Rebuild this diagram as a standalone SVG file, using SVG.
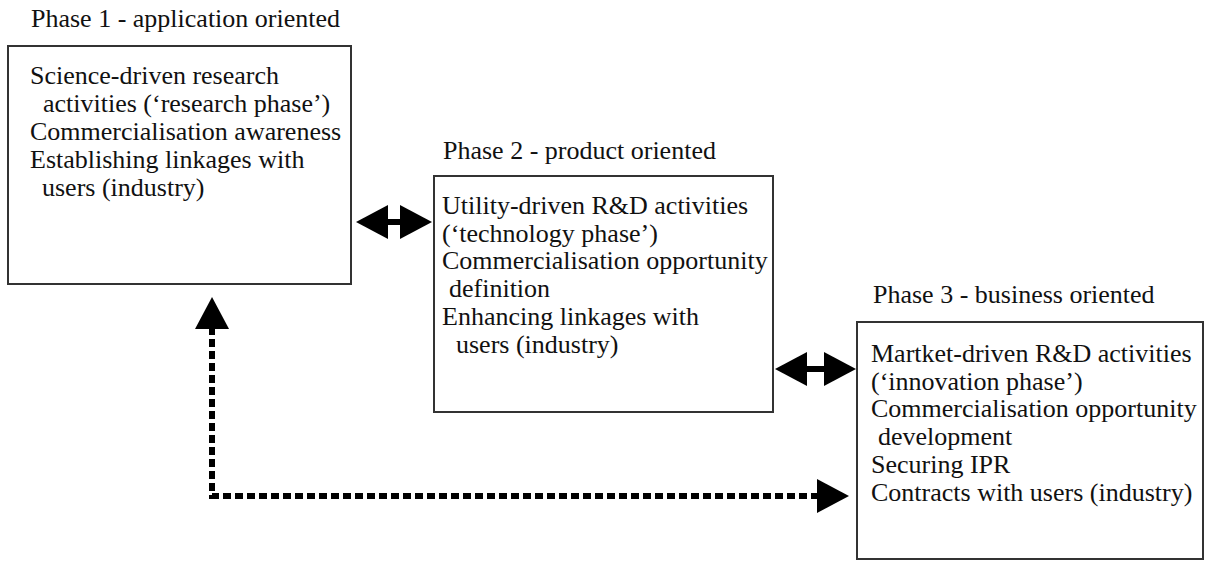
<svg xmlns="http://www.w3.org/2000/svg" width="1206" height="561" viewBox="0 0 1206 561">
<style>
  .box { fill: #ffffff; stroke: #333333; stroke-width: 2; }
  .t { font-family: "Liberation Serif", "Times New Roman", serif; font-size: 26px; fill: #111111; }
  .solid { stroke: #000000; stroke-width: 6; fill: none; marker-start: url(#ah); marker-end: url(#ah); }
  .dash { stroke: #000000; stroke-width: 6; fill: none; stroke-dasharray: 8 4; marker-start: url(#ah); marker-end: url(#ah); }
</style>
<defs>
  <marker id="ah" markerUnits="userSpaceOnUse" viewBox="0 0 32 34" markerWidth="32" markerHeight="34" refX="2" refY="17" orient="auto-start-reverse">
    <path d="M0,0 L32,17 L0,34 Z" fill="#000000"/>
  </marker>
</defs>
<rect width="1206" height="561" fill="#ffffff"/>

<g id="phase1">
  <text class="t" x="31" y="27">Phase 1 - application oriented</text>
  <rect class="box" x="8" y="46" width="343" height="238"/>
  <text class="t" x="30" y="84">Science-driven research</text>
  <text class="t" x="43" y="112">activities (‘research phase’)</text>
  <text class="t" x="30" y="140">Commercialisation awareness</text>
  <text class="t" x="30" y="168">Establishing linkages with</text>
  <text class="t" x="42" y="196">users (industry)</text>
</g>

<g id="phase2">
  <text class="t" x="443" y="159">Phase 2 - product oriented</text>
  <rect class="box" x="434" y="176" width="339" height="236"/>
  <text class="t" x="442" y="214">Utility-driven R&amp;D activities</text>
  <text class="t" x="442" y="242">(‘technology phase’)</text>
  <text class="t" x="442" y="269">Commercialisation opportunity</text>
  <text class="t" x="449" y="297">definition</text>
  <text class="t" x="442" y="325">Enhancing linkages with</text>
  <text class="t" x="456" y="353">users (industry)</text>
</g>

<g id="phase3">
  <text class="t" x="873" y="303">Phase 3 - business oriented</text>
  <rect class="box" x="857" y="322" width="346" height="237"/>
  <text class="t" x="871" y="362">Martket-driven R&amp;D activities</text>
  <text class="t" x="871" y="390">(‘innovation phase’)</text>
  <text class="t" x="871" y="417">Commercialisation opportunity</text>
  <text class="t" x="878" y="445">development</text>
  <text class="t" x="871" y="473">Securing IPR</text>
  <text class="t" x="871" y="501">Contracts with users (industry)</text>
</g>

<g id="connectors">
  <line class="solid" x1="386" y1="222" x2="402" y2="222"/>
  <line class="solid" x1="805" y1="369" x2="826" y2="369"/>
  <path class="dash" d="M212,327 V496 H819"/>
</g>
</svg>
